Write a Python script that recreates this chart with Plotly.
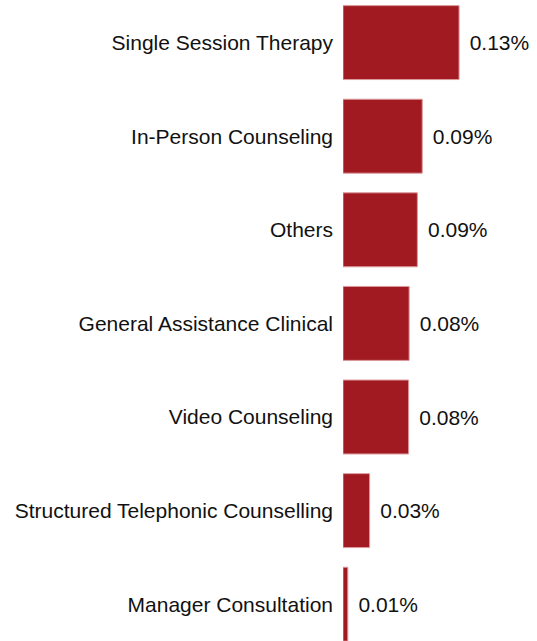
import plotly.graph_objects as go

# Share of cases by service type (%)
services = [
    "Single Session Therapy",
    "In-Person Counseling",
    "Others",
    "General Assistance Clinical",
    "Video Counseling",
    "Structured Telephonic Counselling",
    "Manager Consultation",
]
share_pct = [0.133, 0.0908, 0.0852, 0.0758, 0.0752, 0.0305, 0.0055]

bar_color = "#A11A21"
font_family = "Liberation Sans, Arial, sans-serif"
font_size = 21

fig = go.Figure(
    go.Bar(
        x=share_pct,
        y=services,
        orientation="h",
        width=0.79,
        marker=dict(color=bar_color, line=dict(color="#dc9a9d", width=1)),
        texttemplate="\u00a0\u200a%{x:.2f}%",
        textposition="outside",
        cliponaxis=False,
        textfont=dict(family=font_family, size=font_size, color="#111111"),
        hoverinfo="skip",
    )
)

fig.update_layout(
    width=537,
    height=641,
    margin=dict(l=343, r=2, t=0, b=0),
    paper_bgcolor="white",
    plot_bgcolor="white",
    showlegend=False,
    font=dict(family=font_family, size=font_size, color="#111111"),
    xaxis=dict(
        range=[0, 0.22],
        visible=False,
        showgrid=False,
        zeroline=False,
    ),
    yaxis=dict(
        type="category",
        categoryorder="array",
        categoryarray=services,
        range=[6.393, -0.455],
        showgrid=False,
        zeroline=False,
        showline=False,
        ticks="",
        ticklabelstandoff=9,
        tickfont=dict(family=font_family, size=font_size, color="#111111"),
    ),
)

fig.write_html("out.html")
